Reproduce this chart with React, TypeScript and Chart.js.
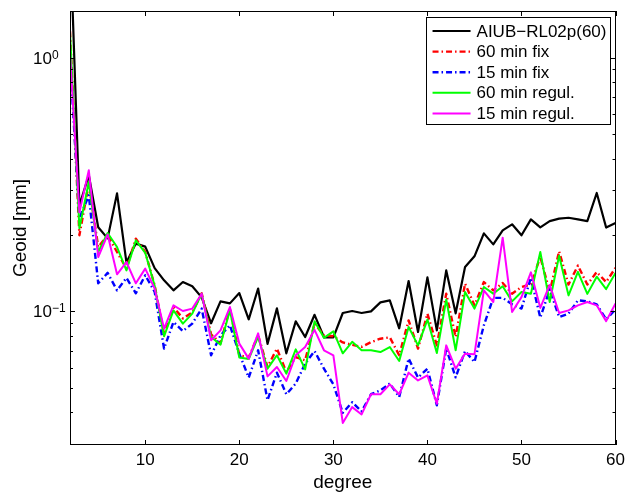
import React, { useEffect, useRef } from 'react';
import { Chart, registerables } from 'chart.js';

Chart.register(...registerables);

const degrees = [2, 3, 4, 5, 6, 7, 8, 9, 10, 11, 12, 13, 14, 15, 16, 17, 18, 19, 20, 21, 22, 23, 24, 25, 26, 27, 28, 29, 30, 31, 32, 33, 34, 35, 36, 37, 38, 39, 40, 41, 42, 43, 44, 45, 46, 47, 48, 49, 50, 51, 52, 53, 54, 55, 56, 57, 58, 59, 60];

const aiub = [3.07, 0.262, 0.344, 0.2145, 0.194, 0.292, 0.156, 0.185, 0.18, 0.148, 0.1325, 0.121, 0.1305, 0.1255, 0.1135, 0.0897, 0.1095, 0.1075, 0.118, 0.093, 0.123, 0.0744, 0.1027, 0.0683, 0.0913, 0.0792, 0.0969, 0.079, 0.079, 0.0985, 0.1003, 0.0985, 0.1, 0.1085, 0.1105, 0.0857, 0.1317, 0.0829, 0.1362, 0.0841, 0.145, 0.0982, 0.1495, 0.1648, 0.203, 0.1837, 0.2087, 0.2204, 0.1995, 0.2306, 0.2145, 0.227, 0.232, 0.234, 0.2306, 0.227, 0.293, 0.214, 0.223];

const fix60 = [1.272, 0.1995, 0.3198, 0.1793, 0.1995, 0.1714, 0.1474, 0.1935, 0.1714, 0.1266, 0.0812, 0.1037, 0.0938, 0.0991, 0.1178, 0.0812, 0.0748, 0.1027, 0.0671, 0.0658, 0.0804, 0.0603, 0.0713, 0.0576, 0.066, 0.0641, 0.0894, 0.0804, 0.0797, 0.0754, 0.0738, 0.0724, 0.0756, 0.078, 0.079, 0.0671, 0.0921, 0.0713, 0.0979, 0.0734, 0.1174, 0.0792, 0.1286, 0.1056, 0.1305, 0.121, 0.1293, 0.1174, 0.1247, 0.1278, 0.1641, 0.1192, 0.1725, 0.1275, 0.1515, 0.1275, 0.1429, 0.1305, 0.1485];

const fix15 = [0.995, 0.2327, 0.2868, 0.129, 0.1418, 0.121, 0.1355, 0.1178, 0.1387, 0.1194, 0.0713, 0.0908, 0.0836, 0.0894, 0.1025, 0.0671, 0.0804, 0.0881, 0.0681, 0.0548, 0.0702, 0.0446, 0.0573, 0.0471, 0.0519, 0.0622, 0.0697, 0.0594, 0.0515, 0.0398, 0.0438, 0.0403, 0.0471, 0.0488, 0.0519, 0.0459, 0.0651, 0.0548, 0.0594, 0.0426, 0.0713, 0.0549, 0.0697, 0.0631, 0.0881, 0.113, 0.113, 0.1066, 0.1025, 0.1355, 0.0944, 0.1218, 0.095, 0.0979, 0.1105, 0.1095, 0.1066, 0.093, 0.1018];

const regul60 = [1.264, 0.2126, 0.3236, 0.1714, 0.2037, 0.1793, 0.145, 0.1906, 0.1701, 0.1261, 0.0797, 0.1009, 0.0894, 0.0979, 0.1174, 0.0792, 0.0739, 0.1009, 0.0657, 0.0648, 0.0793, 0.0594, 0.0671, 0.0568, 0.0708, 0.059, 0.0913, 0.0786, 0.0834, 0.0683, 0.0758, 0.0702, 0.0702, 0.0691, 0.0723, 0.0637, 0.0867, 0.0734, 0.0928, 0.0685, 0.1113, 0.0702, 0.1192, 0.1025, 0.1247, 0.1174, 0.1255, 0.1095, 0.1192, 0.1174, 0.1714, 0.1088, 0.1656, 0.1156, 0.1431, 0.1172, 0.137, 0.1224, 0.1418];

const regul15 = [1.042, 0.2458, 0.3599, 0.1638, 0.2008, 0.14, 0.1565, 0.129, 0.1474, 0.1229, 0.0855, 0.1056, 0.1003, 0.1025, 0.1174, 0.0769, 0.0841, 0.104, 0.0746, 0.0651, 0.0819, 0.0554, 0.0603, 0.0531, 0.0671, 0.0723, 0.0845, 0.0702, 0.0671, 0.0363, 0.0419, 0.0392, 0.0471, 0.0471, 0.0515, 0.0471, 0.0573, 0.0534, 0.0559, 0.0432, 0.0734, 0.0594, 0.0681, 0.0677, 0.121, 0.1088, 0.1953, 0.0994, 0.1138, 0.1425, 0.1032, 0.1271, 0.0985, 0.1009, 0.1056, 0.1088, 0.1056, 0.0915, 0.1075];

const seriesLabels = ['AIUB\u2212RL02p(60)', '60 min fix', '15 min fix', '60 min regul.', '15 min regul.'];
const xTicks = [10, 20, 30, 40, 50, 60];
const yMajorTicks = [0.1, 1];
const yMinorTicks = [0.03, 0.04, 0.05, 0.06, 0.07, 0.08, 0.09, 0.2, 0.3, 0.4, 0.5, 0.6, 0.7, 0.8, 0.9];
const yTickLabels = [
  { value: 1, base: '10', exp: '0' },
  { value: 0.1, base: '10', exp: '\u22121' },
];

const FONT = '"Liberation Sans", Arial, Helvetica, sans-serif';

const toPoints = (vals: number[]) => degrees.map((d, i) => ({ x: d, y: vals[i] }));

const framePlugin = {
  id: 'matlabFrame',
  afterDraw(chart: any) {
    const { ctx, chartArea: a, scales } = chart;
    const xs = scales.x;
    const ys = scales.y;
    ctx.save();
    ctx.strokeStyle = '#000';
    ctx.lineWidth = 1;
    ctx.setLineDash([]);
    ctx.strokeRect(Math.round(a.left) + 0.5, Math.round(a.top) + 0.5, Math.round(a.right - a.left) - 1, Math.round(a.bottom - a.top) - 1);
    const line = (x1: number, y1: number, x2: number, y2: number) => {
      ctx.beginPath();
      ctx.moveTo(x1, y1);
      ctx.lineTo(x2, y2);
      ctx.stroke();
    };
    for (const v of xTicks) {
      const px = Math.round(xs.getPixelForValue(v)) + 0.5;
      line(px, a.bottom, px, a.bottom - 5);
      line(px, a.top, px, a.top + 5);
    }
    for (const v of yMinorTicks) {
      const py = Math.round(ys.getPixelForValue(v)) + 0.5;
      line(a.left, py, a.left + 3, py);
      line(a.right, py, a.right - 3, py);
    }
    for (const v of yMajorTicks) {
      const py = Math.round(ys.getPixelForValue(v)) + 0.5;
      line(a.left, py, a.left + 5, py);
      line(a.right, py, a.right - 5, py);
    }
    // y tick labels with superscripts
    ctx.fillStyle = '#000';
    ctx.textAlign = 'left';
    ctx.textBaseline = 'alphabetic';
    for (const t of yTickLabels) {
      const py = ys.getPixelForValue(t.value);
      const bx = a.left - 37;
      ctx.font = `17px ${FONT}`;
      ctx.fillText(t.base, bx, py + 6);
      const w = ctx.measureText(t.base).width;
      ctx.font = `12px ${FONT}`;
      ctx.fillText(t.exp, bx + w, py + 1);
    }
    // legend
    const ds = chart.data.datasets;
    const lw = 184;
    const lh = 107;
    const lx = a.right - 6 - lw;
    const ly = a.top + 6;
    ctx.fillStyle = '#fff';
    ctx.fillRect(lx, ly, lw, lh);
    ctx.strokeStyle = '#000';
    ctx.lineWidth = 1;
    ctx.strokeRect(Math.round(lx) + 0.5, Math.round(ly) + 0.5, lw, lh);
    ds.forEach((d: any, i: number) => {
      const yy = ly + 14 + i * 20.6;
      ctx.strokeStyle = d.borderColor;
      ctx.lineWidth = d.borderWidth;
      ctx.setLineDash(d.borderDash || []);
      line(lx + 7, yy, lx + 45, yy);
      ctx.setLineDash([]);
      ctx.fillStyle = '#000';
      ctx.font = `17px ${FONT}`;
      ctx.textBaseline = 'middle';
      ctx.fillText(d.label, lx + 51, yy + 1);
    });
    ctx.restore();
  },
};

export default function App() {
  const ref = useRef<HTMLCanvasElement | null>(null);
  useEffect(() => {
    if (!ref.current) return;
    const chart = new Chart(ref.current, {
      type: 'line',
      data: {
        datasets: [
          { label: seriesLabels[0], data: toPoints(aiub), borderColor: '#000000', borderWidth: 2.2, order: 4 },
          { label: seriesLabels[1], data: toPoints(fix60), borderColor: '#ff0000', borderWidth: 2.4, borderDash: [6, 3, 1.5, 3], order: 3 },
          { label: seriesLabels[2], data: toPoints(fix15), borderColor: '#0000ff', borderWidth: 2.4, borderDash: [6, 3, 1.5, 3], order: 2 },
          { label: seriesLabels[3], data: toPoints(regul60), borderColor: '#00ff00', borderWidth: 2, order: 1 },
          { label: seriesLabels[4], data: toPoints(regul15), borderColor: '#ff00ff', borderWidth: 2, order: 0 },
        ] as any,
      },
      options: {
        animation: false,
        responsive: false,
        maintainAspectRatio: false,
        layout: { padding: { top: 11, right: 9, left: 0, bottom: 0 } },
        elements: { point: { radius: 0 }, line: { tension: 0, borderJoinStyle: 'round' as any } },
        plugins: { legend: { display: false }, tooltip: { enabled: false } },
        scales: {
          x: {
            type: 'linear',
            min: 2,
            max: 60,
            afterBuildTicks: (s: any) => { s.ticks = xTicks.map((v) => ({ value: v })); },
            afterFit: (s: any) => { s.height = 49; },
            grid: { display: false, drawTicks: false },
            border: { display: false },
            ticks: { color: '#000', font: { family: FONT, size: 17 }, padding: 5, maxRotation: 0, autoSkip: false },
            title: { display: true, text: 'degree', color: '#000', font: { family: FONT, size: 19 }, padding: { top: 0, bottom: 0 } },
          },
          y: {
            type: 'logarithmic',
            min: 0.0297,
            max: 1.53,
            afterFit: (s: any) => { s.width = 70; },
            grid: { display: false, drawTicks: false },
            border: { display: false },
            ticks: { display: false },
            title: { display: true, text: 'Geoid [mm]', color: '#000', font: { family: FONT, size: 19 }, padding: { top: 9, bottom: 0 } },
          },
        },
      } as any,
      plugins: [framePlugin],
    });
    return () => chart.destroy();
  }, []);
  return (
    <div style={{ position: 'fixed', left: 0, top: 0, width: 630, height: 494, background: '#fff' }}>
      <canvas ref={ref} width={630} height={494} style={{ display: 'block', width: 630, height: 494 }} />
    </div>
  );
}
